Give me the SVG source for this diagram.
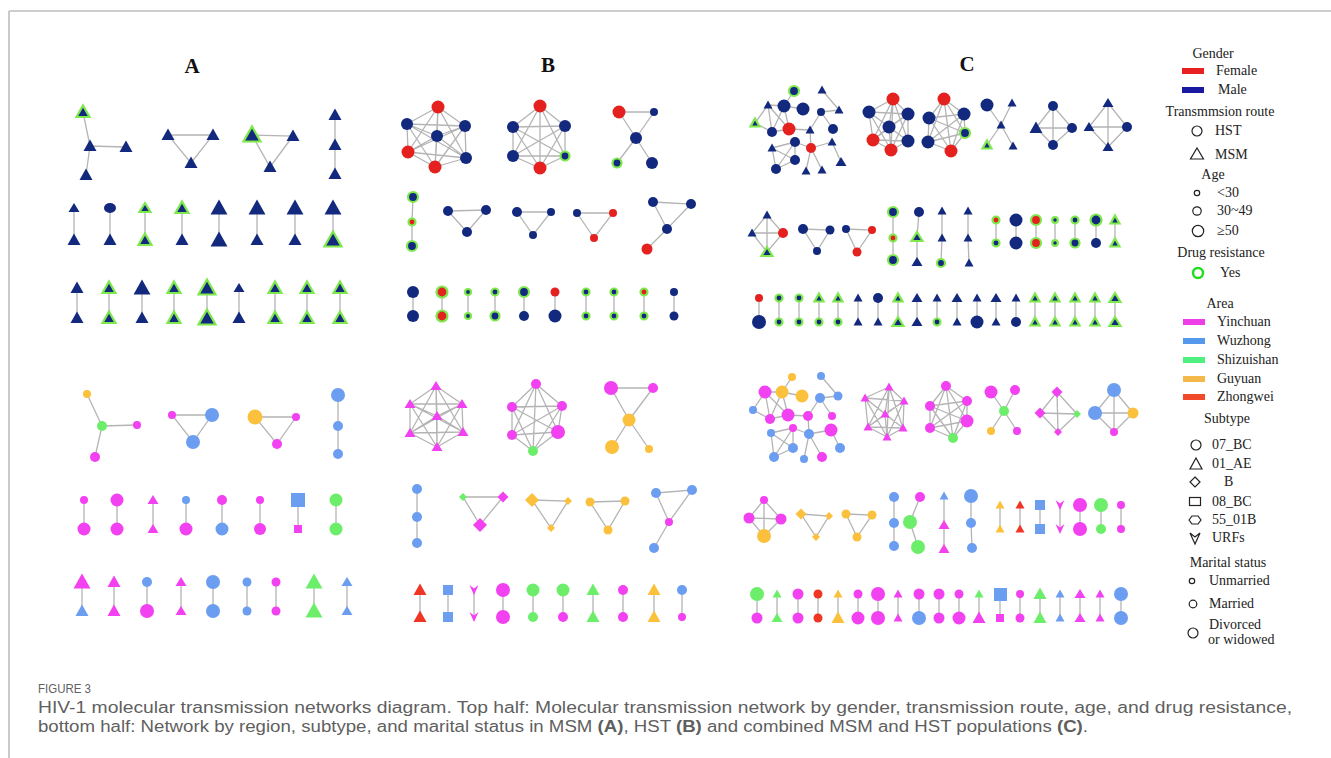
<svg xmlns="http://www.w3.org/2000/svg" xmlns:xlink="http://www.w3.org/1999/xlink" width="1331" height="758" viewBox="0 0 1331 758">
<style>
.e{stroke:#b4b4b4;stroke-width:1.3;fill:none}
.nv{fill:#12297e}.rd{fill:#e4211f}.g{stroke:#7fe84d;stroke-width:2.2}
.mg{fill:#f241f0}.bl{fill:#6b9df0}.gr{fill:#6cee6a}.or{fill:#fbc13c}.rr{fill:#ef3524}
.lt{font-family:"Liberation Serif","Times New Roman",serif;font-size:14px;fill:#222}
.ls{fill:none;stroke:#222;stroke-width:1.2}
.pl{font-family:"Liberation Serif","Times New Roman",serif;font-size:21px;font-weight:bold;fill:#111;text-anchor:middle}
.cap{font-family:"Liberation Sans",Arial,sans-serif;fill:#5f5f5f}
</style>
<defs>
<path id="tXS" d="M0,-4.5L4.5,3.5H-4.5Z"/>
<path id="tS" d="M0,-5L5.5,4H-5.5Z"/>
<path id="tM" d="M0,-6.5L6.5,5H-6.5Z"/>
<path id="tL" d="M0,-8.5L8.5,6.5H-8.5Z"/>
<path id="urf" d="M-4.5,-5L0,-1.5L4.5,-5L0,5Z"/>
<path id="dS" d="M0,-4L4,0L0,4L-4,0Z"/>
<path id="dM" d="M0,-5.5L5.5,0L0,5.5L-5.5,0Z"/>
<path id="dL" d="M0,-7L7,0L0,7L-7,0Z"/>
</defs>
<rect width="1331" height="758" fill="#fff"/>
<path d="M9,11H1331M9,11V758" stroke="#bdbdbd" stroke-width="1.6" fill="none"/>

<text class="pl" x="192" y="73">A</text>
<text class="pl" x="548" y="72">B</text>
<text class="pl" x="967" y="71">C</text>

<g id="connectors" class="e">
<path d="M90,146L83,112M90,146L126,147M90,146L86,175M168,135L213,135L191,163ZM252,135L293,136L270,167ZM335,115V174"/>
<path d="M74,208V240M110,208V240M145,208V240M182,208V240M219,208V240M257,208V240M295,208V240M333,208V240"/>
<path d="M77,288V318M109,288V318M142,288V318M174,288V318M207,288V318M239,288V318M275,288V318M307,288V318M340,288V318"/>
<path d="M102,426L87,394M102,426L137,425M102,426L95,457M172,415L212,415L193,442ZM255,417L296,417L277,444ZM338,395V454"/>
<path d="M84,500V529M117,500V529M153,500V529M186,500V529M222,500V529M260,500V529M298,500V529M336,500V529"/>
<path d="M82,582V611M114,582V611M147,582V611M181,582V611M213,582V611M247,582V611M276,582V611M314,582V611M347,582V611"/>
<path d="M438,107L407,124M438,107L465,126M438,107L437,136M438,107L408,152M438,107L466,158M438,107L435,167M407,124L465,126M407,124L437,136M407,124L408,152M407,124L466,158M407,124L435,167M465,126L437,136M465,126L408,152M465,126L466,158M465,126L435,167M437,136L408,152M437,136L466,158M437,136L435,167M408,152L466,158M408,152L435,167M466,158L435,167"/>
<path d="M540,106L513,127M540,106L565,126M540,106L513,156M540,106L565,156M540,106L540,168M513,127L565,126M513,127L513,156M513,127L565,156M513,127L540,168M565,126L513,156M565,126L565,156M565,126L540,168M513,156L565,156M513,156L540,168M565,156L540,168"/>
<path d="M619,112L654,112M619,112L636,138M654,112L636,138M636,138L617,163M636,138L652,163"/>
<path d="M413,197L412,222L412,246M448,211L486,210L467,232ZM517,212L551,212L533,235ZM577,213L613,213L594,238ZM653,202L691,204L667,229ZM667,229L647,249"/>
<path d="M413,292V316M442,292V316M468,292V316M495,292V316M524,292V316M555,292V316M586,292V316M614,292V316M644,292V316M674,292V316"/>
<path d="M436,386L410,404M436,386L462,404M436,386L437,416M436,386L410,433M436,386L463,432M436,386L437,447M410,404L462,404M410,404L437,416M410,404L410,433M410,404L463,432M410,404L437,447M462,404L437,416M462,404L410,433M462,404L463,432M462,404L437,447M437,416L410,433M437,416L463,432M437,416L437,447M410,433L463,432M410,433L437,447M463,432L437,447"/>
<path d="M536,384L512,407M536,384L562,406M536,384L512,435M536,384L558,432M536,384L533,451M512,407L562,406M512,407L512,435M512,407L558,432M512,407L533,451M562,406L512,435M562,406L558,432M562,406L533,451M512,435L558,432M512,435L533,451M558,432L533,451"/>
<path d="M611,388L653,388M611,388L629,420M653,388L629,420M629,420L612,447M629,420L649,449"/>
<path d="M417,489V543M463,497L503,497L480,525ZM532,500L568,501L551,528ZM590,502L625,501L608,530ZM656,493L692,490L669,522ZM669,522L654,548"/>
<path d="M420,590V617M448,590V617M474,590V617M503,590V617M533,590V617M563,590V617M593,590V617M623,590V617M654,590V617M682,590V617"/>
<path d="M794,91L784,106M784,106L803,109M768,105L784,106M768,105L755,123M768,105L772,132M768,105L789,129M784,106L772,132M784,106L789,129M755,123L772,132M772,132L789,129M789,129L810,130M810,130L821,112M822,90L839,110M821,112L839,110M821,112L833,129M810,130L811,148M795,142L811,148M795,142L772,148M795,142L795,160M795,142L776,169M772,148L795,160M772,148L776,169M795,160L776,169M811,148L832,142M832,142L841,162M811,148L806,171M811,148L822,170"/>
<path d="M893,99L869,112M893,99L908,114M893,99L889,127M893,99L873,140M893,99L908,141M893,99L891,150M869,112L908,114M869,112L889,127M869,112L873,140M869,112L908,141M869,112L891,150M908,114L889,127M908,114L873,140M908,114L908,141M908,114L891,150M889,127L873,140M889,127L908,141M889,127L891,150M873,140L908,141M873,140L891,150M908,141L891,150"/>
<path d="M944,99L929,118M944,99L964,114M944,99L965,133M944,99L928,142M944,99L951,151M929,118L964,114M929,118L965,133M929,118L928,142M929,118L951,151M964,114L965,133M964,114L928,142M964,114L951,151M965,133L928,142M965,133L951,151M928,142L951,151"/>
<path d="M1001,125L987,105M1001,125L1012,103M1001,125L987,145M1001,125L1013,146M1053,106L1036,128L1053,145L1072,128ZM1053,106L1053,145M1036,128L1072,128M1108,103L1089,127L1108,147L1127,127ZM1108,103L1108,147M1089,127L1127,127"/>
<path d="M767,215L752,233L767,252L783,233ZM767,215L767,252M752,233L783,233M803,229L830,230L817,251ZM846,229L872,230L857,252ZM893,212V260M919,212L917,237L917,262M942,211L942,238L941,263M968,211L968,238L969,263"/>
<path d="M996,220V243M1016,220V243M1036,220V243M1055,220V243M1075,220V243M1096,220V243M1115,220V243"/>
<path d="M759,298V322M779,298V322M799,298V322M819,298V322M838,298V322M858,298V322M878,298V322M898,298V322M917,298V322M937,298V322M957,298V322M977,298V322M996,298V322M1016,298V322M1035,298V322M1055,298V322M1075,298V322M1095,298V322M1115,298V322"/>
<path d="M792,377L782,392M782,392L802,396M765,392L782,392M765,392L753,410M765,392L770,419M765,392L788,415M782,392L770,419M782,392L788,415M753,410L770,419M770,419L788,415M788,415L808,416M808,416L820,398M821,376L838,396M820,398L838,396M820,398L832,416M808,416L809,434M793,428L809,434M793,428L771,433M793,428L793,448M793,428L774,457M771,433L793,448M771,433L774,457M793,448L774,457M809,434L831,430M831,430L840,448M809,434L804,459M809,434L822,457"/>
<path d="M889,387L865,398M889,387L904,401M889,387L885,414M889,387L868,427M889,387L903,428M889,387L887,437M865,398L904,401M865,398L885,414M865,398L868,427M865,398L903,428M865,398L887,437M904,401L885,414M904,401L868,427M904,401L903,428M904,401L887,437M885,414L868,427M885,414L903,428M885,414L887,437M868,427L903,428M868,427L887,437M903,428L887,437"/>
<path d="M946,386L930,406M946,386L967,401M946,386L967,421M946,386L930,428M946,386L953,438M930,406L967,401M930,406L967,421M930,406L930,428M930,406L953,438M967,401L967,421M967,401L930,428M967,401L953,438M967,421L930,428M967,421L953,438M930,428L953,438"/>
<path d="M1004,411L991,392M1004,411L1015,390M1004,411L991,431M1004,411L1017,431M1057,392L1040,413L1058,432L1077,414ZM1057,392L1058,432M1040,413L1077,414M1114,390L1095,413L1114,432L1133,413ZM1114,390L1114,432M1095,413L1133,413"/>
<path d="M764,500L749,518L764,536L781,519ZM764,500L764,536M749,518L781,519M801,514L829,516L816,537ZM846,514L872,515L857,537ZM894,497V546M920,497L910,522L918,547M944,496V549M971,496L971,523L972,548"/>
<path d="M1000,505V529M1020,505V529M1040,505V529M1060,505V529M1080,505V529M1101,505V529M1121,505V529"/>
<path d="M757,594V618M777,594V618M798,594V618M818,594V618M838,594V618M858,594V618M878,594V618M898,594V618M919,594V618M939,594V618M959,594V618M979,594V618M1000,594V618M1020,594V618M1040,594V618M1060,594V618M1080,594V618M1100,594V618M1121,594V618"/>
</g>

<!-- Panel A top -->
<g id="A-top-net1"><use href="#tM" x="83" y="112" class="nv g"/><use href="#tM" x="90" y="146" class="nv"/><use href="#tM" x="126" y="147" class="nv"/><use href="#tM" x="86" y="175" class="nv"/></g>
<g id="A-top-net2"><use href="#tM" x="168" y="135" class="nv"/><use href="#tM" x="213" y="135" class="nv"/><use href="#tM" x="191" y="163" class="nv"/></g>
<g id="A-top-net3"><use href="#tL" x="252" y="135" class="nv g"/><use href="#tM" x="293" y="136" class="nv"/><use href="#tM" x="270" y="167" class="nv"/></g>
<g id="A-top-net4"><use href="#tM" x="335" y="115" class="nv"/><use href="#tM" x="335" y="145" class="nv"/><use href="#tM" x="335" y="174" class="nv"/></g>
<g id="A-top-row2">
<use href="#tS" x="74" y="208" class="nv"/><use href="#tM" x="74" y="240" class="nv"/>
<ellipse cx="110" cy="208" rx="6" ry="5" class="nv"/><use href="#tM" x="110" y="240" class="nv"/>
<use href="#tS" x="145" y="208" class="nv g"/><use href="#tM" x="145" y="240" class="nv g"/>
<use href="#tM" x="182" y="208" class="nv g"/><use href="#tM" x="182" y="240" class="nv"/>
<use href="#tL" x="219" y="208" class="nv"/><use href="#tL" x="219" y="240" class="nv"/>
<use href="#tL" x="257" y="208" class="nv"/><use href="#tM" x="257" y="240" class="nv"/>
<use href="#tL" x="295" y="208" class="nv"/><use href="#tM" x="295" y="240" class="nv"/>
<use href="#tL" x="333" y="208" class="nv"/><use href="#tL" x="333" y="240" class="nv g"/>
</g>
<g id="A-top-row3">
<use href="#tM" x="77" y="288" class="nv"/><use href="#tM" x="77" y="318" class="nv"/>
<use href="#tM" x="109" y="288" class="nv g"/><use href="#tM" x="109" y="318" class="nv g"/>
<use href="#tL" x="142" y="288" class="nv"/><use href="#tM" x="142" y="318" class="nv"/>
<use href="#tM" x="174" y="288" class="nv g"/><use href="#tM" x="174" y="318" class="nv g"/>
<use href="#tL" x="207" y="288" class="nv g"/><use href="#tL" x="207" y="318" class="nv g"/>
<use href="#tS" x="239" y="288" class="nv"/><use href="#tM" x="239" y="318" class="nv"/>
<use href="#tM" x="275" y="288" class="nv g"/><use href="#tM" x="275" y="318" class="nv g"/>
<use href="#tM" x="307" y="288" class="nv g"/><use href="#tM" x="307" y="318" class="nv g"/>
<use href="#tM" x="340" y="288" class="nv g"/><use href="#tM" x="340" y="318" class="nv g"/>
</g>

<!-- Panel A bottom -->
<g id="A-bot-net1"><circle cx="87" cy="394" r="4" class="or"/><circle cx="102" cy="426" r="5" class="gr"/><circle cx="137" cy="425" r="4" class="mg"/><circle cx="95" cy="457" r="5" class="mg"/></g>
<g id="A-bot-net2"><circle cx="172" cy="415" r="4" class="mg"/><circle cx="212" cy="415" r="7" class="bl"/><circle cx="193" cy="442" r="7" class="bl"/></g>
<g id="A-bot-net3"><circle cx="255" cy="417" r="7.5" class="or"/><circle cx="296" cy="417" r="4" class="mg"/><circle cx="277" cy="444" r="5" class="mg"/></g>
<g id="A-bot-net4"><circle cx="338" cy="395" r="7" class="bl"/><circle cx="338" cy="426" r="5" class="bl"/><circle cx="338" cy="454" r="5" class="bl"/></g>
<g id="A-bot-row2">
<circle cx="84" cy="500" r="4" class="mg"/><circle cx="84" cy="529" r="6.5" class="mg"/>
<circle cx="117" cy="500" r="6.5" class="mg"/><circle cx="117" cy="529" r="6.5" class="mg"/>
<use href="#tS" x="153" y="500" class="mg"/><use href="#tS" x="153" y="529" class="mg"/>
<circle cx="186" cy="500" r="4" class="bl"/><circle cx="186" cy="529" r="6.5" class="mg"/>
<circle cx="222" cy="500" r="5" class="mg"/><circle cx="222" cy="529" r="6.5" class="bl"/>
<circle cx="260" cy="500" r="4" class="mg"/><circle cx="260" cy="529" r="6" class="mg"/>
<rect x="291" y="493" width="14" height="14" class="bl"/><rect x="294" y="525" width="8" height="8" class="mg"/>
<circle cx="336" cy="500" r="6.5" class="gr"/><circle cx="336" cy="529" r="6.5" class="gr"/>
</g>
<g id="A-bot-row3">
<use href="#tL" x="82" y="582" class="mg"/><use href="#tM" x="82" y="611" class="bl"/>
<use href="#tM" x="114" y="582" class="mg"/><use href="#tM" x="114" y="611" class="mg"/>
<circle cx="147" cy="582" r="5" class="bl"/><circle cx="147" cy="611" r="7" class="mg"/>
<use href="#tS" x="181" y="582" class="mg"/><use href="#tS" x="181" y="611" class="mg"/>
<circle cx="213" cy="582" r="7" class="bl"/><circle cx="213" cy="611" r="7" class="bl"/>
<circle cx="247" cy="582" r="4.5" class="bl"/><circle cx="247" cy="611" r="4.5" class="bl"/>
<circle cx="276" cy="582" r="4.5" class="mg"/><circle cx="276" cy="611" r="4.5" class="mg"/>
<use href="#tL" x="314" y="582" class="gr"/><use href="#tL" x="314" y="611" class="gr"/>
<use href="#tS" x="347" y="582" class="bl"/><use href="#tS" x="347" y="611" class="bl"/>
</g>

<!-- Panel B top -->
<g id="B-top-net1"><circle cx="438" cy="107" r="6.5" class="rd"/><circle cx="407" cy="124" r="6" class="nv"/><circle cx="465" cy="126" r="6" class="nv"/><circle cx="437" cy="136" r="6" class="nv"/><circle cx="408" cy="152" r="6.5" class="rd"/><circle cx="466" cy="158" r="6" class="nv"/><circle cx="435" cy="167" r="6.5" class="rd"/></g>
<g id="B-top-net2"><circle cx="540" cy="106" r="6.5" class="rd"/><circle cx="513" cy="127" r="6" class="nv"/><circle cx="565" cy="126" r="6" class="nv"/><circle cx="513" cy="156" r="6" class="nv"/><circle cx="565" cy="156" r="4.5" class="nv g"/><circle cx="540" cy="168" r="6.5" class="rd"/></g>
<g id="B-top-net3"><circle cx="619" cy="112" r="6.5" class="rd"/><circle cx="654" cy="112" r="4" class="nv"/><circle cx="636" cy="138" r="6" class="nv"/><circle cx="617" cy="163" r="4.5" class="nv g"/><circle cx="652" cy="163" r="6" class="nv"/></g>
<g id="B-top-net4"><circle cx="413" cy="197" r="5" class="nv g"/><circle cx="412" cy="222" r="3.5" class="rd g"/><circle cx="412" cy="246" r="5" class="nv g"/></g>
<g id="B-top-net5"><circle cx="448" cy="211" r="5" class="nv"/><circle cx="486" cy="210" r="5" class="nv"/><circle cx="467" cy="232" r="5" class="nv"/></g>
<g id="B-top-net6"><circle cx="517" cy="212" r="5" class="nv"/><circle cx="551" cy="212" r="4" class="nv"/><circle cx="533" cy="235" r="4" class="nv"/></g>
<g id="B-top-net7"><circle cx="577" cy="213" r="4" class="nv"/><circle cx="613" cy="213" r="4" class="rd"/><circle cx="594" cy="238" r="4" class="rd"/></g>
<g id="B-top-net8"><circle cx="653" cy="202" r="5" class="nv"/><circle cx="691" cy="204" r="5" class="nv"/><circle cx="667" cy="229" r="5" class="nv"/><circle cx="647" cy="249" r="5.5" class="rd"/></g>
<g id="B-top-row3">
<circle cx="413" cy="292" r="6" class="nv"/><circle cx="413" cy="316" r="6" class="nv"/>
<circle cx="442" cy="292" r="5.5" class="rd g"/><circle cx="442" cy="316" r="5.5" class="rd g"/>
<circle cx="468" cy="292" r="3" class="nv g"/><circle cx="468" cy="316" r="3" class="nv g"/>
<circle cx="495" cy="292" r="3.5" class="nv g"/><circle cx="495" cy="316" r="4.5" class="nv g"/>
<circle cx="524" cy="292" r="5" class="nv g"/><circle cx="524" cy="316" r="5" class="nv"/>
<circle cx="555" cy="292" r="4.5" class="rd"/><circle cx="555" cy="316" r="6.5" class="nv"/>
<circle cx="586" cy="292" r="3.5" class="nv g"/><circle cx="586" cy="316" r="3.5" class="nv g"/>
<circle cx="614" cy="292" r="3.5" class="nv g"/><circle cx="614" cy="316" r="3.5" class="nv g"/>
<circle cx="644" cy="292" r="3.5" class="rd g"/><circle cx="644" cy="316" r="3.5" class="nv g"/>
<circle cx="674" cy="292" r="4" class="nv"/><circle cx="674" cy="316" r="4.5" class="nv"/>
</g>

<!-- Panel B bottom -->
<g id="B-bot-net1"><use href="#tS" x="436" y="386" class="mg"/><use href="#tS" x="410" y="404" class="mg"/><use href="#tS" x="462" y="404" class="mg"/><use href="#tS" x="437" y="416" class="mg"/><use href="#tS" x="410" y="433" class="mg"/><use href="#tS" x="463" y="432" class="mg"/><use href="#tS" x="437" y="447" class="mg"/></g>
<g id="B-bot-net2"><circle cx="536" cy="384" r="5" class="mg"/><circle cx="512" cy="407" r="5" class="mg"/><circle cx="562" cy="406" r="5" class="mg"/><circle cx="512" cy="435" r="5" class="mg"/><circle cx="558" cy="432" r="7" class="mg"/><circle cx="533" cy="451" r="5" class="gr"/></g>
<g id="B-bot-net3"><circle cx="611" cy="388" r="7" class="mg"/><circle cx="653" cy="388" r="5" class="mg"/><circle cx="629" cy="420" r="6.5" class="or"/><circle cx="612" cy="447" r="7" class="or"/><circle cx="649" cy="449" r="4" class="or"/></g>
<g id="B-bot-net4"><circle cx="417" cy="489" r="5" class="bl"/><circle cx="417" cy="517" r="5" class="bl"/><circle cx="417" cy="543" r="5" class="bl"/></g>
<g id="B-bot-net5"><use href="#dS" x="463" y="497" class="gr"/><use href="#dM" x="503" y="497" class="mg"/><use href="#dL" x="480" y="525" class="mg"/></g>
<g id="B-bot-net6"><use href="#dL" x="532" y="500" class="or"/><use href="#dS" x="568" y="501" class="or"/><use href="#dS" x="551" y="528" class="or"/></g>
<g id="B-bot-net7"><circle cx="590" cy="502" r="4.5" class="or"/><circle cx="625" cy="501" r="4.5" class="or"/><circle cx="608" cy="530" r="4.5" class="or"/></g>
<g id="B-bot-net8"><circle cx="656" cy="493" r="5" class="bl"/><circle cx="692" cy="490" r="5" class="bl"/><circle cx="669" cy="522" r="4" class="mg"/><circle cx="654" cy="548" r="5" class="bl"/></g>
<g id="B-bot-row3">
<use href="#tM" x="420" y="590" class="rr"/><use href="#tM" x="420" y="617" class="rr"/>
<rect x="443" y="585" width="10" height="10" class="bl"/><rect x="443" y="612" width="10" height="10" class="bl"/>
<use href="#urf" x="474" y="590" class="mg"/><use href="#urf" x="474" y="617" class="mg"/>
<circle cx="503" cy="590" r="7" class="mg"/><circle cx="503" cy="617" r="7" class="mg"/>
<circle cx="533" cy="590" r="6.5" class="gr"/><circle cx="533" cy="617" r="5" class="gr"/>
<circle cx="563" cy="590" r="6.5" class="gr"/><circle cx="563" cy="617" r="5" class="mg"/>
<use href="#tM" x="593" y="590" class="gr"/><use href="#tM" x="593" y="617" class="gr"/>
<circle cx="623" cy="590" r="5" class="mg"/><circle cx="623" cy="617" r="5" class="mg"/>
<use href="#tM" x="654" y="590" class="or"/><use href="#tM" x="654" y="617" class="or"/>
<circle cx="682" cy="590" r="5" class="bl"/><circle cx="682" cy="617" r="4" class="mg"/>
</g>

<!-- Panel C top -->
<g id="C-top-net1">
<circle cx="794" cy="91" r="5" class="nv g"/><use href="#tXS" x="768" y="105" class="nv"/><circle cx="784" cy="106" r="6.5" class="nv"/><circle cx="803" cy="109" r="6.5" class="nv"/><use href="#tXS" x="822" y="90" class="nv"/><use href="#tXS" x="839" y="110" class="nv"/><circle cx="821" cy="112" r="4" class="nv"/><use href="#tXS" x="755" y="123" class="nv g"/><circle cx="772" cy="132" r="5" class="nv"/><circle cx="789" cy="129" r="6.5" class="rd"/><use href="#tXS" x="810" y="130" class="nv"/><circle cx="833" cy="129" r="5" class="nv"/><circle cx="795" cy="142" r="5" class="nv"/><use href="#tXS" x="772" y="148" class="nv"/><circle cx="811" cy="148" r="5" class="rd"/><use href="#tXS" x="832" y="142" class="nv"/><circle cx="795" cy="160" r="5" class="nv"/><circle cx="776" cy="169" r="5" class="nv"/><use href="#tXS" x="806" y="171" class="nv"/><use href="#tXS" x="822" y="170" class="nv"/><use href="#tS" x="841" y="162" class="nv"/>
</g>
<g id="C-top-net2"><circle cx="893" cy="99" r="6.5" class="rd"/><circle cx="869" cy="112" r="6.5" class="nv"/><circle cx="908" cy="114" r="6.5" class="nv"/><circle cx="889" cy="127" r="6.5" class="nv"/><circle cx="873" cy="140" r="6.5" class="rd"/><circle cx="908" cy="141" r="6.5" class="nv"/><circle cx="891" cy="150" r="6.5" class="rd"/></g>
<g id="C-top-net3"><circle cx="944" cy="99" r="6.5" class="rd"/><circle cx="929" cy="118" r="6.5" class="nv"/><circle cx="964" cy="114" r="6.5" class="nv"/><circle cx="965" cy="133" r="5" class="nv g"/><circle cx="928" cy="142" r="6.5" class="nv"/><circle cx="951" cy="151" r="6.5" class="rd"/></g>
<g id="C-top-net4"><circle cx="987" cy="105" r="6.5" class="nv"/><use href="#tXS" x="1012" y="103" class="nv"/><use href="#tXS" x="1001" y="125" class="nv"/><use href="#tXS" x="987" y="145" class="nv g"/><use href="#tXS" x="1013" y="146" class="nv"/></g>
<g id="C-top-net5"><circle cx="1053" cy="106" r="5" class="nv"/><use href="#tM" x="1036" y="128" class="nv"/><circle cx="1072" cy="128" r="5" class="nv"/><circle cx="1053" cy="145" r="5" class="nv"/></g>
<g id="C-top-net6"><use href="#tS" x="1108" y="103" class="nv"/><use href="#tS" x="1089" y="127" class="nv"/><circle cx="1127" cy="127" r="5" class="nv"/><use href="#tS" x="1108" y="147" class="nv"/></g>
<g id="C-top-net7"><use href="#tXS" x="767" y="215" class="nv"/><use href="#tXS" x="752" y="233" class="nv"/><circle cx="783" cy="233" r="5" class="rd"/><use href="#tS" x="767" y="252" class="nv g"/></g>
<g id="C-top-net8"><circle cx="803" cy="229" r="5" class="nv"/><circle cx="830" cy="230" r="4.5" class="nv"/><circle cx="817" cy="251" r="4" class="nv"/></g>
<g id="C-top-net9"><circle cx="846" cy="229" r="4" class="nv"/><circle cx="872" cy="230" r="4" class="rd"/><circle cx="857" cy="252" r="4.5" class="rd"/></g>
<g id="C-top-net10"><circle cx="893" cy="212" r="5" class="nv g"/><circle cx="893" cy="238" r="3.5" class="rd g"/><circle cx="893" cy="260" r="5" class="nv g"/></g>
<g id="C-top-net11"><circle cx="919" cy="212" r="5" class="nv"/><use href="#tS" x="917" y="237" class="nv g"/><use href="#tS" x="917" y="262" class="nv"/></g>
<g id="C-top-net12"><use href="#tXS" x="942" y="211" class="nv"/><use href="#tXS" x="942" y="238" class="nv"/><circle cx="941" cy="263" r="4" class="nv g"/></g>
<g id="C-top-net13"><use href="#tXS" x="968" y="211" class="nv"/><use href="#tXS" x="968" y="238" class="nv"/><use href="#tXS" x="969" y="263" class="nv"/></g>
<g id="C-top-row2-pairs">
<circle cx="996" cy="220" r="3.5" class="rd g"/><circle cx="996" cy="243" r="3.5" class="nv g"/>
<circle cx="1016" cy="220" r="6.5" class="nv"/><circle cx="1016" cy="243" r="6.5" class="nv"/>
<circle cx="1036" cy="220" r="5" class="rd g"/><circle cx="1036" cy="243" r="5" class="rd g"/>
<circle cx="1055" cy="220" r="2.8" class="nv g"/><circle cx="1055" cy="243" r="2.8" class="nv g"/>
<circle cx="1075" cy="220" r="3.5" class="nv g"/><circle cx="1075" cy="243" r="4.5" class="nv g"/>
<circle cx="1096" cy="220" r="5.5" class="nv g"/><circle cx="1096" cy="243" r="5" class="nv"/>
<use href="#tXS" x="1115" y="220" class="nv g"/><use href="#tXS" x="1115" y="243" class="nv g"/>
</g>
<g id="C-top-row3">
<circle cx="759" cy="298" r="4" class="rd"/><circle cx="759" cy="322" r="7" class="nv"/>
<circle cx="779" cy="298" r="3.5" class="nv g"/><circle cx="779" cy="322" r="3.5" class="nv g"/>
<circle cx="799" cy="298" r="3.5" class="nv g"/><circle cx="799" cy="322" r="3.5" class="nv g"/>
<use href="#tXS" x="819" y="298" class="nv g"/><circle cx="819" cy="322" r="3.5" class="nv g"/>
<use href="#tXS" x="838" y="298" class="nv g"/><circle cx="838" cy="322" r="3.5" class="nv g"/>
<use href="#tXS" x="858" y="298" class="nv"/><use href="#tXS" x="858" y="322" class="nv"/>
<circle cx="878" cy="298" r="5" class="nv"/><use href="#tXS" x="878" y="322" class="nv"/>
<use href="#tXS" x="898" y="298" class="nv g"/><use href="#tS" x="898" y="322" class="nv g"/>
<use href="#tS" x="917" y="298" class="nv"/><use href="#tS" x="917" y="322" class="nv"/>
<use href="#tXS" x="937" y="298" class="nv"/><circle cx="937" cy="322" r="3.5" class="nv g"/>
<use href="#tS" x="957" y="298" class="nv"/><use href="#tXS" x="957" y="322" class="nv"/>
<use href="#tXS" x="977" y="298" class="nv"/><circle cx="977" cy="322" r="6.5" class="nv"/>
<use href="#tS" x="996" y="298" class="nv"/><use href="#tXS" x="996" y="322" class="nv"/>
<use href="#tXS" x="1016" y="298" class="nv"/><circle cx="1016" cy="322" r="5" class="nv"/>
<use href="#tXS" x="1035" y="298" class="nv g"/><use href="#tXS" x="1035" y="322" class="nv g"/>
<use href="#tXS" x="1055" y="298" class="nv g"/><use href="#tXS" x="1055" y="322" class="nv g"/>
<use href="#tXS" x="1075" y="298" class="nv g"/><use href="#tXS" x="1075" y="322" class="nv g"/>
<use href="#tXS" x="1095" y="298" class="nv g"/><use href="#tXS" x="1095" y="322" class="nv g"/>
<use href="#tS" x="1115" y="298" class="nv g"/><use href="#tS" x="1115" y="322" class="nv g"/>
</g>

<!-- Panel C bottom -->
<g id="C-bot-net1">
<circle cx="792" cy="377" r="4" class="or"/><circle cx="821" cy="376" r="4" class="bl"/><circle cx="765" cy="392" r="6.5" class="mg"/><circle cx="782" cy="392" r="6.5" class="or"/><circle cx="802" cy="396" r="6.5" class="or"/><circle cx="838" cy="396" r="4.5" class="bl"/><circle cx="820" cy="398" r="5" class="bl"/><circle cx="753" cy="410" r="4" class="bl"/><circle cx="770" cy="419" r="5" class="mg"/><circle cx="788" cy="415" r="6.5" class="mg"/><circle cx="808" cy="416" r="5" class="mg"/><circle cx="832" cy="416" r="4" class="mg"/><circle cx="793" cy="428" r="4" class="mg"/><circle cx="771" cy="433" r="4" class="bl"/><circle cx="809" cy="434" r="5" class="bl"/><circle cx="831" cy="430" r="6.5" class="mg"/><circle cx="793" cy="448" r="5" class="bl"/><circle cx="774" cy="457" r="5" class="bl"/><circle cx="804" cy="459" r="4" class="bl"/><circle cx="822" cy="457" r="5" class="mg"/><circle cx="840" cy="448" r="5" class="bl"/>
</g>
<g id="C-bot-net2"><use href="#tXS" x="889" y="387" class="mg"/><use href="#tXS" x="865" y="398" class="mg"/><use href="#tXS" x="904" y="401" class="mg"/><use href="#tXS" x="885" y="414" class="mg"/><use href="#tXS" x="868" y="427" class="mg"/><use href="#tXS" x="903" y="428" class="mg"/><use href="#tXS" x="887" y="437" class="mg"/></g>
<g id="C-bot-net3"><circle cx="946" cy="386" r="5" class="mg"/><circle cx="930" cy="406" r="5" class="mg"/><circle cx="967" cy="401" r="5" class="mg"/><circle cx="967" cy="421" r="6.5" class="mg"/><circle cx="930" cy="428" r="5" class="mg"/><circle cx="953" cy="438" r="5" class="gr"/></g>
<g id="C-bot-net4"><circle cx="991" cy="392" r="6.5" class="mg"/><circle cx="1015" cy="390" r="5" class="mg"/><circle cx="1004" cy="411" r="5" class="gr"/><circle cx="991" cy="431" r="4" class="or"/><circle cx="1017" cy="431" r="4" class="mg"/></g>
<g id="C-bot-net5"><use href="#dM" x="1057" y="392" class="mg"/><use href="#dM" x="1040" y="413" class="mg"/><use href="#dS" x="1077" y="414" class="gr"/><use href="#dS" x="1058" y="432" class="mg"/></g>
<g id="C-bot-net6"><circle cx="1114" cy="390" r="7" class="bl"/><circle cx="1095" cy="413" r="7" class="bl"/><circle cx="1133" cy="413" r="5.5" class="or"/><circle cx="1114" cy="432" r="4" class="mg"/></g>
<g id="C-bot-net7"><circle cx="764" cy="500" r="4" class="mg"/><circle cx="749" cy="518" r="5.5" class="mg"/><circle cx="781" cy="519" r="5.5" class="mg"/><circle cx="764" cy="536" r="7" class="or"/></g>
<g id="C-bot-net8"><use href="#dM" x="801" y="514" class="or"/><use href="#dS" x="829" y="516" class="or"/><use href="#dS" x="816" y="537" class="or"/></g>
<g id="C-bot-net9"><circle cx="846" cy="514" r="4.5" class="or"/><circle cx="872" cy="515" r="4.5" class="or"/><circle cx="857" cy="537" r="4.5" class="or"/></g>
<g id="C-bot-net10"><circle cx="894" cy="497" r="5" class="bl"/><circle cx="894" cy="523" r="5" class="bl"/><circle cx="894" cy="546" r="5" class="bl"/></g>
<g id="C-bot-net11"><circle cx="920" cy="497" r="5" class="mg"/><circle cx="910" cy="522" r="7" class="gr"/><circle cx="918" cy="547" r="7" class="gr"/></g>
<g id="C-bot-net12"><use href="#tXS" x="944" y="496" class="bl"/><use href="#tS" x="944" y="525" class="mg"/><use href="#tS" x="944" y="549" class="mg"/></g>
<g id="C-bot-net13"><circle cx="971" cy="496" r="7" class="bl"/><circle cx="971" cy="523" r="5" class="bl"/><circle cx="972" cy="548" r="5" class="bl"/></g>
<g id="C-bot-row2-pairs">
<use href="#tXS" x="1000" y="505" class="or"/><use href="#tXS" x="1000" y="529" class="or"/>
<use href="#tXS" x="1020" y="505" class="rr"/><use href="#tXS" x="1020" y="529" class="rr"/>
<rect x="1035" y="500" width="10" height="10" class="bl"/><rect x="1035" y="524" width="10" height="10" class="bl"/>
<use href="#urf" x="1060" y="505" class="mg"/><use href="#urf" x="1060" y="529" class="mg"/>
<circle cx="1080" cy="505" r="7" class="mg"/><circle cx="1080" cy="529" r="7" class="mg"/>
<circle cx="1101" cy="505" r="7" class="gr"/><circle cx="1101" cy="529" r="5" class="gr"/>
<circle cx="1121" cy="505" r="4" class="mg"/><circle cx="1121" cy="529" r="4" class="mg"/>
</g>
<g id="C-bot-row3">
<circle cx="757" cy="594" r="7" class="gr"/><circle cx="757" cy="618" r="5.5" class="mg"/>
<use href="#tXS" x="777" y="594" class="gr"/><use href="#tS" x="777" y="618" class="gr"/>
<circle cx="798" cy="594" r="5.5" class="mg"/><circle cx="798" cy="618" r="5.5" class="mg"/>
<circle cx="818" cy="594" r="4.5" class="rr"/><circle cx="818" cy="618" r="4.5" class="rr"/>
<use href="#tXS" x="838" y="594" class="or"/><use href="#tM" x="838" y="618" class="or"/>
<circle cx="858" cy="594" r="4.5" class="mg"/><circle cx="858" cy="618" r="6.5" class="mg"/>
<circle cx="878" cy="594" r="7" class="mg"/><circle cx="878" cy="618" r="7" class="mg"/>
<use href="#tXS" x="898" y="594" class="mg"/><use href="#tXS" x="898" y="618" class="mg"/>
<circle cx="919" cy="594" r="5.5" class="mg"/><circle cx="919" cy="618" r="7" class="bl"/>
<circle cx="939" cy="594" r="5.5" class="mg"/><circle cx="939" cy="618" r="5.5" class="mg"/>
<circle cx="959" cy="594" r="4.5" class="mg"/><circle cx="959" cy="618" r="6.5" class="mg"/>
<use href="#tXS" x="979" y="594" class="gr"/><use href="#tM" x="979" y="618" class="mg"/>
<rect x="994" y="588" width="13" height="13" class="bl"/><rect x="996" y="614" width="8" height="8" class="mg"/>
<circle cx="1020" cy="594" r="4" class="mg"/><circle cx="1020" cy="618" r="4.5" class="mg"/>
<use href="#tM" x="1040" y="594" class="gr"/><use href="#tM" x="1040" y="618" class="gr"/>
<use href="#tXS" x="1060" y="594" class="bl"/><use href="#tXS" x="1060" y="618" class="bl"/>
<use href="#tS" x="1080" y="594" class="mg"/><use href="#tS" x="1080" y="618" class="mg"/>
<use href="#tXS" x="1100" y="594" class="mg"/><use href="#tXS" x="1100" y="618" class="mg"/>
<circle cx="1121" cy="594" r="7" class="bl"/><circle cx="1121" cy="618" r="7" class="bl"/>
</g>

<!-- Legend -->
<g id="legend">
<text class="lt" x="1213" y="58" text-anchor="middle">Gender</text>
<rect x="1182" y="68" width="22" height="6" fill="#e8201f"/><text class="lt" x="1216" y="75">Female</text>
<rect x="1182" y="87" width="22" height="6" fill="#1818a0"/><text class="lt" x="1218" y="94">Male</text>
<text class="lt" x="1220" y="116" text-anchor="middle">Transmmsion route</text>
<circle cx="1197" cy="131" r="5" class="ls"/><text class="lt" x="1215" y="135">HST</text>
<path d="M1197,148L1203.5,159H1190.5Z" class="ls"/><text class="lt" x="1215" y="159">MSM</text>
<text class="lt" x="1213" y="179" text-anchor="middle">Age</text>
<circle cx="1197" cy="193" r="2.7" class="ls"/><text class="lt" x="1217" y="197">&lt;30</text>
<circle cx="1197" cy="211" r="4.2" class="ls"/><text class="lt" x="1217" y="215">30~49</text>
<circle cx="1198" cy="231" r="5.7" class="ls"/><text class="lt" x="1217" y="235">≥50</text>
<text class="lt" x="1221" y="257" text-anchor="middle">Drug resistance</text>
<circle cx="1198" cy="273" r="5" fill="none" stroke="#22dd22" stroke-width="2.5"/><text class="lt" x="1220" y="277">Yes</text>
<text class="lt" x="1220" y="308" text-anchor="middle">Area</text>
<rect x="1183" y="319" width="22" height="6" fill="#ee3ee8"/><text class="lt" x="1217" y="326">Yinchuan</text>
<rect x="1183" y="338" width="22" height="6" fill="#5599ee"/><text class="lt" x="1217" y="345">Wuzhong</text>
<rect x="1183" y="357" width="22" height="6" fill="#4fef80"/><text class="lt" x="1217" y="364">Shizuishan</text>
<rect x="1183" y="376" width="22" height="6" fill="#f5b84a"/><text class="lt" x="1217" y="383">Guyuan</text>
<rect x="1183" y="394" width="22" height="6" fill="#f04a2a"/><text class="lt" x="1217" y="401">Zhongwei</text>
<text class="lt" x="1227" y="423" text-anchor="middle">Subtype</text>
<circle cx="1196" cy="445" r="5" class="ls"/><text class="lt" x="1212" y="449">07_BC</text>
<path d="M1196,458L1202,469H1190Z" class="ls"/><text class="lt" x="1212" y="468">01_AE</text>
<path d="M1195,477L1200,482L1195,487L1190,482Z" class="ls"/><text class="lt" x="1224" y="486">B</text>
<rect x="1189.5" y="497.5" width="11" height="8" class="ls"/><text class="lt" x="1212" y="506">08_BC</text>
<path d="M1189,520L1192,516H1198L1201,520L1198,524H1192Z" class="ls"/><text class="lt" x="1212" y="524">55_01B</text>
<path d="M1190,533L1195,537L1200,533L1195,544Z" class="ls"/><text class="lt" x="1212" y="542">URFs</text>
<text class="lt" x="1228" y="567" text-anchor="middle">Marital status</text>
<circle cx="1192" cy="581" r="2.7" class="ls"/><text class="lt" x="1209" y="585">Unmarried</text>
<circle cx="1193" cy="604" r="3.8" class="ls"/><text class="lt" x="1209" y="608">Married</text>
<circle cx="1193" cy="633" r="5" class="ls"/><text class="lt" x="1209" y="629" font-size="13.5">Divorced</text><text class="lt" x="1208" y="644" font-size="13.5">or widowed</text>
</g>

<!-- Caption -->
<g id="caption">
<text class="cap" x="38" y="693" font-size="13" textLength="53" lengthAdjust="spacingAndGlyphs">FIGURE 3</text>
<text class="cap" x="38" y="713" font-size="16" textLength="1254" lengthAdjust="spacingAndGlyphs">HIV-1 molecular transmission networks diagram. Top half: Molecular transmission network by gender, transmission route, age, and drug resistance,</text>
<text class="cap" x="38" y="732" font-size="16" textLength="1050" lengthAdjust="spacingAndGlyphs">bottom half: Network by region, subtype, and marital status in MSM <tspan font-weight="bold">(A)</tspan>, HST <tspan font-weight="bold">(B)</tspan> and combined MSM and HST populations <tspan font-weight="bold">(C)</tspan>.</text>
</g>
</svg>
